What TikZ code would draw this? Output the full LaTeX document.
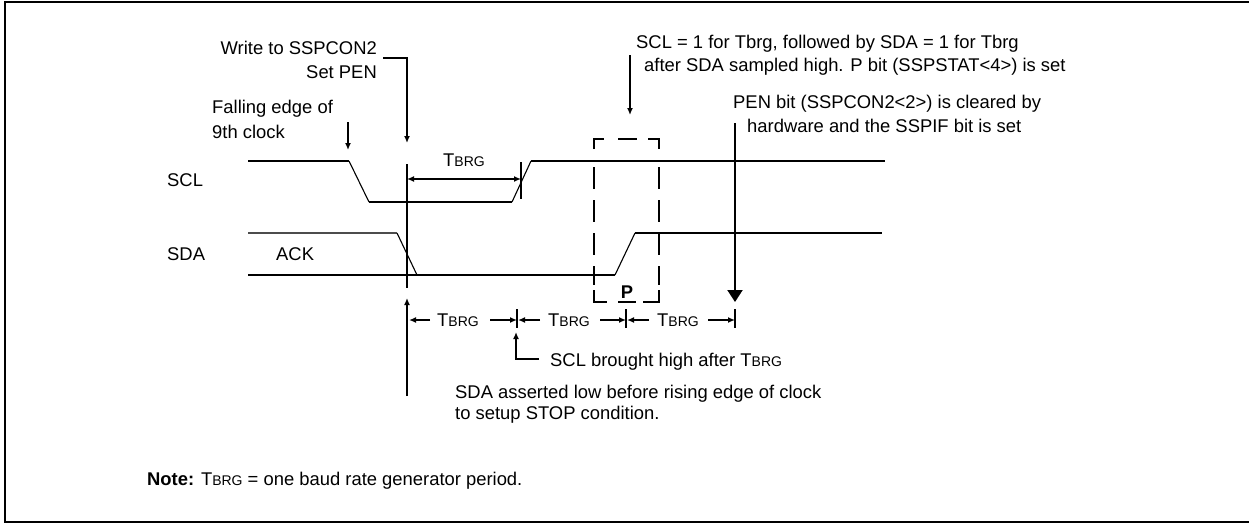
\documentclass[tikz,border=0pt]{standalone}
\usepackage{fontspec}
\setmainfont{Liberation Sans}
\usetikzlibrary{arrows.meta}
\newcommand{\Tbrg}{T{\fontsize{14}{16}\selectfont BRG}}
\begin{document}
\begin{tikzpicture}[x=1pt,y=-1pt,
  txt/.style={font=\fontsize{18.4}{22}\selectfont, inner sep=0pt},
  sig/.style={line width=1.7pt, line join=miter},
  thinedge/.style={line width=1.1pt},
  mk/.style={line width=2pt},
  arr/.style={line width=1.8pt, -{Latex[length=7pt,width=6pt]}},
  dsh/.style={line width=2pt},
  frm/.style={line width=2pt}]
\useasboundingbox (0,0) rectangle (1249,523);
% frame
\draw[frm] (1252,2) -- (5,2) -- (5,522) -- (1252,522);

% coordinates
\coordinate (m0) at (407,164);
\coordinate (m0b) at (407,288);
\coordinate (t1) at (517,320);
\coordinate (t2) at (626,320);
\coordinate (t3) at (735,320);

% SCL
\draw[sig] (248,161) -- (349,161);
\draw[thinedge] (349,161) -- (369,202);
\draw[sig] (369,202) -- (512,202);
\draw[thinedge] (512,202) -- (531,161);
\draw[sig] (531,161) -- (885,161);
% SDA
\draw[line width=1.4pt, black!70] (248,233) -- (397,233);
\draw[thinedge] (397,233) -- (417,275);
\draw[sig] (248,275) -- (615,275);
\draw[thinedge] (615,275) -- (635,233);
\draw[sig] (635,233) -- (882,233);

% labels
\node[txt, anchor=base west] (scl) at (167,186) {SCL};
\node[txt, anchor=base west] (sda) at (167,260) {SDA};
\node[txt, anchor=base west] (ack) at (276,260) {ACK};

% marker line
\draw[mk] (m0) -- (m0b);

% write to SSPCON2
\node[txt, anchor=base east] (wr1) at (377,54) {Write to SSPCON2};
\node[txt, anchor=base east] (wr2) at (377,78) {Set PEN};
\coordinate (wrc) at (383,58);
\coordinate (wrt) at (407,143);
\draw[arr] (wrc) -| (wrt);

% falling edge
\node[txt, anchor=base west] (fe1) at (212,113) {Falling edge of};
\node[txt, anchor=base west] (fe2) at (212,138) {9th clock};
\coordinate (fea) at (348,122);
\coordinate (feb) at (348,150);
\draw[arr] (fea) -- (feb);

% upper TBRG
\node[txt, anchor=base west] (tbu) at (443,166) {\Tbrg};
\coordinate (ut) at (521,179);
\draw[line width=1.8pt, {Latex[length=7pt,width=6pt]}-{Latex[length=7pt,width=6pt]}] (407,179) -- (ut);
\draw[mk] (521,162) -- (521,199);

% dashed P box
\draw[dsh] (594,149) -- (594,139) -- (604,139);
\draw[dsh] (618,139) -- (637,139);
\draw[dsh] (648,139) -- (659,139) -- (659,149);
\draw[dsh, dash pattern=on 22pt off 11pt] (594,167) -- (594,285);
\draw[dsh, dash pattern=on 22pt off 11pt] (659,167) -- (659,285);
\draw[dsh] (594,290) -- (594,302) -- (607,302);
\draw[dsh] (618,302) -- (636,302);
\draw[dsh] (643,302) -- (659,302) -- (659,290);
\node[txt, anchor=base, font=\fontsize{18.4}{22}\selectfont\bfseries] (p) at (627,298) {P};

% SCL=1 text
\node[txt, anchor=base west] (s1) at (636,48) {SCL = 1 for Tbrg, followed by SDA = 1 for Tbrg};
\node[txt, anchor=base west] (s2) at (644,71) {after SDA sampled high. P bit (SSPSTAT<4>) is set};
\coordinate (sa) at (630,55);
\coordinate (sb) at (630,115);
\draw[arr] (sa) -- (sb);

% PEN text
\node[txt, anchor=base west] (pen1) at (733,108) {PEN bit (SSPCON2<2>) is cleared by};
\node[txt, anchor=base west] (pen2) at (747,132) {hardware and the SSPIF bit is set};
\coordinate (pa) at (735,123);
\coordinate (pb) at (735,302);
\draw[line width=2pt, -{Triangle[length=12pt,width=15pt]}] (pa) -- (pb);

% bottom dimension ticks
\draw[mk] (517,309) -- (517,328);
\draw[mk] (626,309) -- (626,328);
\draw[mk] (735,309) -- (735,328);
\node[txt, anchor=base] (b1) at (458,326) {\Tbrg};
\node[txt, anchor=base] (b2) at (569,326) {\Tbrg};
\node[txt, anchor=base] (b3) at (678,326) {\Tbrg};
\draw[arr] (430,320) -- (409,320);
\draw[arr] (490,320) -- (t1);
\draw[arr] (540,320) -- (518,320);
\draw[arr] (600,320) -- (t2);
\draw[arr] (649,320) -- (627,320);
\draw[arr] (708,320) -- (t3);

% lower marker arrow
\coordinate (la) at (407,396);
\coordinate (lb) at (407,298);
\draw[arr] (la) -- (lb);

% SCL brought high
\node[txt, anchor=base west] (sbh) at (550,366) {SCL brought high after \Tbrg};
\coordinate (ha) at (539,359);
\coordinate (hb) at (516,332);
\draw[arr] (ha) -| (hb);

% SDA asserted
\node[txt, anchor=base west] (sd1) at (455,398) {SDA asserted low before rising edge of clock};
\node[txt, anchor=base west] (sd2) at (455,419) {to setup STOP condition.};

% note
\node[txt, anchor=base west] (note) at (147,485) {\textbf{Note:} \Tbrg{} = one baud rate generator period.};
\end{tikzpicture}
\end{document}
